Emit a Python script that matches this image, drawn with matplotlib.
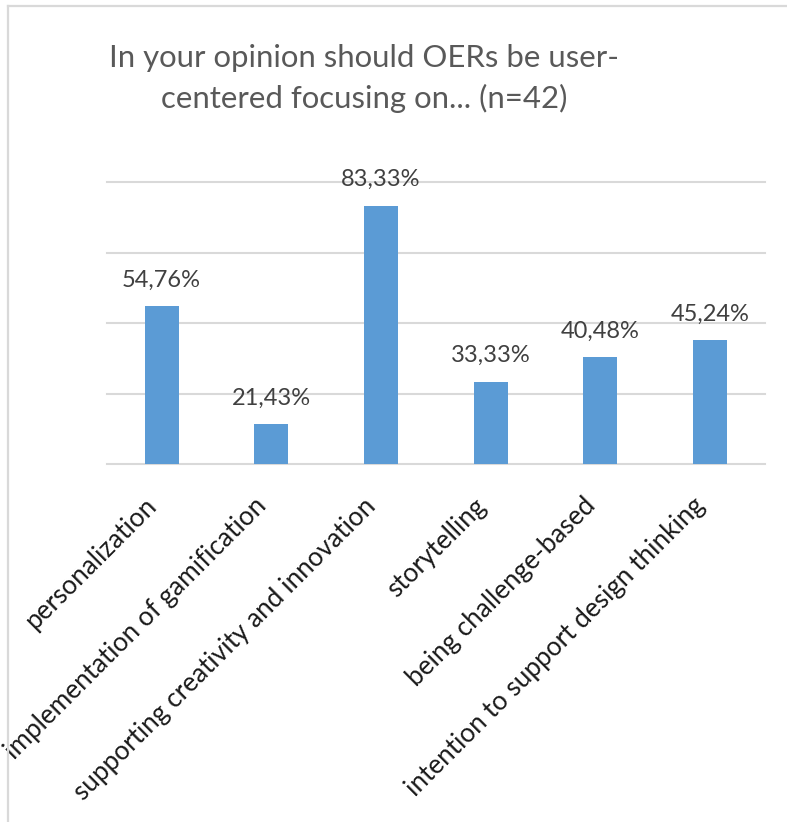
import matplotlib.pyplot as plt
from matplotlib.lines import Line2D

categories = ['personalization',
              'implementation of gamification',
              'supporting creativity and innovation',
              'storytelling',
              'being challenge-based',
              'intention to support design thinking']
# bar heights as drawn (gridlines at 10, 20, 30, 40)
bar_values = [22.4, 5.7, 36.7, 11.7, 15.2, 17.6]
bar_labels = ['54,76%', '21,43%', '83,33%', '33,33%', '40,48%', '45,24%']
grid_values = [10, 20, 30, 40]

W, H = 787, 822
fig = plt.figure(figsize=(W / 100, H / 100), dpi=100)
fig.patch.set_facecolor('white')

# chart frame (top and left edges visible)
fig.add_artist(Line2D([8 / W, 1], [1 - 6.3 / H, 1 - 6.3 / H], color='#d9d9d9', lw=1.6))
fig.add_artist(Line2D([8 / W, 8 / W], [0, 1 - 6.3 / H], color='#d9d9d9', lw=1.6))

ax = fig.add_axes([106.7 / W, 1 - 464 / H, (764.7 - 106.7) / W, (464 - 182.3) / H])
x = list(range(len(categories)))
ax.bar(x, bar_values, width=0.31, color='#5b9bd5', zorder=3)
ax.set_xlim(-0.5, len(categories) - 0.5)
ax.set_ylim(0, 40)

for g in grid_values:
    ax.axhline(g, color='#d9d9d9', lw=1.5, zorder=1, clip_on=False)

for xi, v, lab in zip(x, bar_values, bar_labels):
    ax.annotate(lab, (xi, v), xytext=(0, 18.7), textcoords='offset points',
                ha='center', va='center', fontsize=17, color='#404040',
                family='Lato', annotation_clip=False)

for s in ['top', 'right', 'left']:
    ax.spines[s].set_visible(False)
ax.spines['bottom'].set_color('#d9d9d9')
ax.spines['bottom'].set_linewidth(1.5)
ax.set_yticks([])
ax.set_xticks(x)
ax.set_xticklabels(categories, rotation=45, ha='right', va='top',
                   fontsize=18.8, family='Lato', color='#1a1a1a')
ax.tick_params(axis='x', length=0, pad=21)

fig.text(364 / W, 1 - 66.7 / H, 'In your opinion should OERs be user-',
         ha='center', va='baseline', fontsize=22.4, color='#595959', family='Lato')
fig.text(364 / W, 1 - 108.3 / H, 'centered focusing on... (n=42)',
         ha='center', va='baseline', fontsize=22.4, color='#595959', family='Lato')

fig.savefig('out.png', dpi=100)
